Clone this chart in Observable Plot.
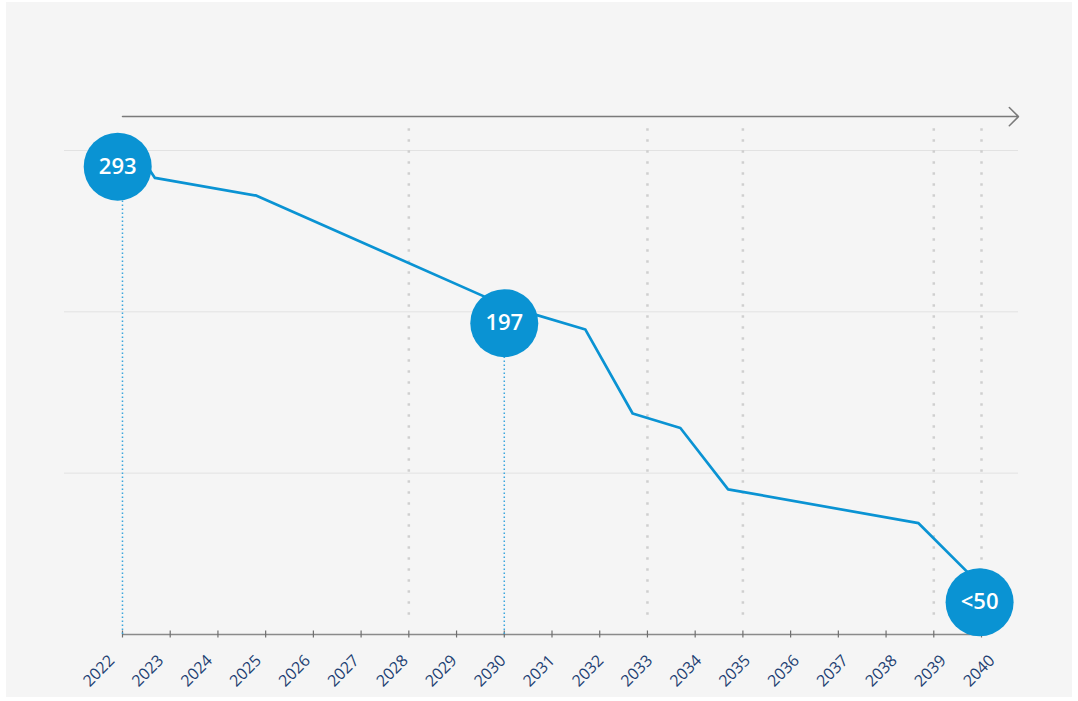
<!DOCTYPE html>
<html>
<head>
<meta charset="utf-8">
<script src="https://cdn.jsdelivr.net/npm/d3@7"></script>
<script src="https://cdn.jsdelivr.net/npm/@observablehq/plot@0.6"></script>
<style>
  html, body { margin: 0; padding: 0; background: #ffffff; }
  #panel { position: absolute; left: 6px; top: 2px; width: 1066px; height: 695px; background: #f5f5f5; }
  #chart { position: absolute; left: 0; top: 0; }
</style>
</head>
<body>
<div id="panel"></div>
<div id="chart"></div>
<script>
// Tick labels (years on the x axis)
const years = d3.range(2022, 2041);
// Main line
const lineYears  = [2022.3, 2022.68, 2024.81, 2030, 2031.7, 2032.69, 2033.69, 2034.69, 2038.68, 2040];
const lineValues = [300,    283,     272,     204,  189,    137,     128,     90,      69,      30];
// Highlighted bubbles
const bubbleYears  = [2022, 2030, 2040];
const bubbleCenters = [2021.9, 2030, 2039.96];
const bubbleValues = [290, 193, 20];
const bubbleLabels = ["293", "197", "<50"];
// Dotted reference years
const markerYears = [2028, 2033, 2035, 2039, 2040];
// Gridline values
const gridValues = [100, 200, 300];

const xDomain = [2020.785, 2040.775];
const yDomain = [0, 300];
const arrowLevel = 321;
const markerSpan = [12, 314];
const labelSpread = 48.9 / 47.72; // labels sit on a slightly wider spacing than the ticks

const blue = "#0a93d3";
const lineData = lineYears.map((x, i) => ({x, y: lineValues[i]}));
const bubbles = bubbleYears.map((year, i) => ({year, x: bubbleCenters[i], y: bubbleValues[i], label: bubbleLabels[i]}));

const chart = Plot.plot({
  width: 1078,
  height: 701,
  marginLeft: 64,
  marginRight: 60,
  marginTop: 150,
  marginBottom: 67,
  x: {domain: xDomain, axis: null},
  y: {domain: yDomain, axis: null},
  style: {background: "transparent", fontFamily: "'Open Sans', 'Noto Sans', sans-serif", overflow: "visible"},
  marks: [
    Plot.ruleY(gridValues, {stroke: "#e2e2e2", strokeWidth: 1}),
    Plot.ruleX(markerYears, {x: d => d, y1: markerSpan[0], y2: markerSpan[1], stroke: "#cfcfcf", strokeWidth: 2.5, strokeDasharray: "2.5,8.5"}),
    Plot.arrow([{x1: years[0], x2: xDomain[1], y: arrowLevel}], {x1: "x1", x2: "x2", y1: "y", y2: "y", stroke: "#7a7a7a", strokeWidth: 1.5, headLength: 13, headAngle: 90}),
    Plot.ruleY([0], {x1: years[0], x2: years[years.length - 1], stroke: "#8a8a8a", strokeWidth: 1.5}),
    Plot.ruleX(years, {x: d => d, y1: 0, y2: 0, insetTop: -3.5, insetBottom: -3.5, stroke: "#6f6f6f", strokeWidth: 1.2}),
    Plot.text(years, {x: d => years[0] + (d - years[0]) * labelSpread, y: 0, text: d => String(d), rotate: -45, textAnchor: "end", dx: -10.6, dy: 23.4, fill: "#1d3f72", fontSize: 16}),
    Plot.ruleX(bubbles.filter(d => d.year < 2040), {x: "year", y1: 0, y2: "y", stroke: "#3aa6dd", strokeWidth: 1.5, strokeDasharray: "1.5,2.5"}),
    Plot.line(lineData, {x: "x", y: "y", stroke: blue, strokeWidth: 2.7}),
    Plot.dot(bubbles, {x: "x", y: "y", r: 34, fill: blue, stroke: "none"}),
    Plot.text(bubbles, {x: "x", y: "y", text: "label", fill: "white", fontSize: 22, fontWeight: 600})
  ]
});
document.getElementById("chart").appendChild(chart);
</script>
</body>
</html>
